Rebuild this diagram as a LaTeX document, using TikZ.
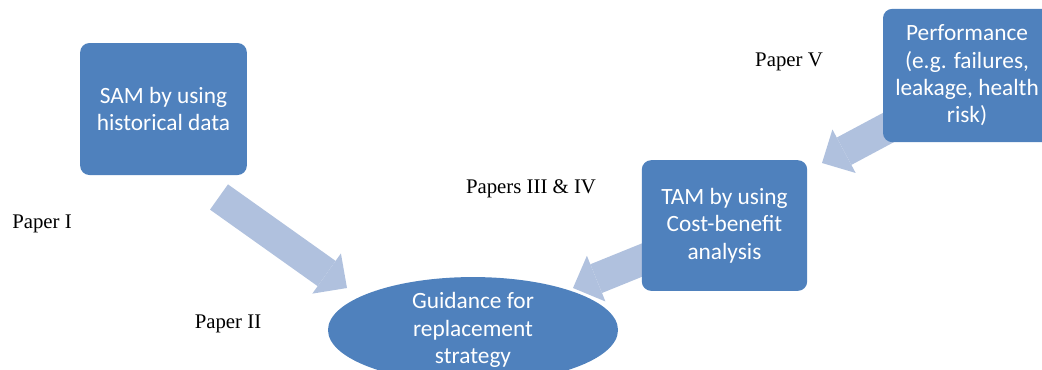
\documentclass[tikz,border=0pt]{standalone}
\usepackage{fontspec}
\setmainfont{Liberation Serif}
\newfontfamily\boxfont{Carlito}
\usetikzlibrary{arrows.meta,shapes.geometric}
\definecolor{boxblue}{RGB}{79,129,189}
\definecolor{arrowblue}{RGB}{176,193,222}

\begin{document}
\begin{tikzpicture}[x=0.75pt,y=-0.75pt,
		blk/.style={rectangle, rounded corners=7pt, fill=boxblue, text=white, align=center, inner sep=0pt, font=\boxfont\fontsize{17.5}{20.5}\selectfont},
		fat/.style={draw=arrowblue, fill=arrowblue, line width=23.25pt, -{Triangle[length=18.75pt,width=37pt,line width'=0pt]}},
		lbl/.style={font=\fontsize{15.6}{18}\selectfont}]
		\useasboundingbox (0,0) rectangle (1042,369);
		% block arrows, drawn first so the boxes hide their tails
		\coordinate (s1) at (219,197);
		\coordinate (e1) at (347,288);
		\coordinate (s2) at (652,256);
		\coordinate (e2) at (573,288);
		\coordinate (s3) at (895,124);
		\coordinate (e3) at (822,163);
		\draw[fat] (s1) -- (e1);
		\draw[fat] (s2) -- (e2);
		\draw[fat] (s3) -- (e3);
		\node[blk, minimum width=125pt, minimum height=99pt] (sam) at (163.5,109) {SAM by using\\historical data};
		\node[blk, minimum width=124pt, minimum height=98pt] (tam) at (724.5,225.5) {TAM by using\\Cost-benefit\\analysis};
		\node[blk, minimum width=126pt, minimum height=100pt] (perf) at (967,75.5) {Performance\\(e.g. failures,\\leakage, health\\risk)};
		\node[ellipse, fill=boxblue, text=white, align=center, inner sep=0pt, minimum width=217.5pt, minimum height=69pt, font=\boxfont\fontsize{17.5}{20.5}\selectfont] (guide) at (473,330) {Guidance for\\replacement\\strategy};
		\node[lbl] (p1) at (42,224) {Paper I};
		\node[lbl] (p2) at (228,324) {Paper II};
		\node[lbl] (p34) at (531,189) {Papers III \& IV};
		\node[lbl] (p5) at (789,62) {Paper V};
	\end{tikzpicture}
\end{document}
